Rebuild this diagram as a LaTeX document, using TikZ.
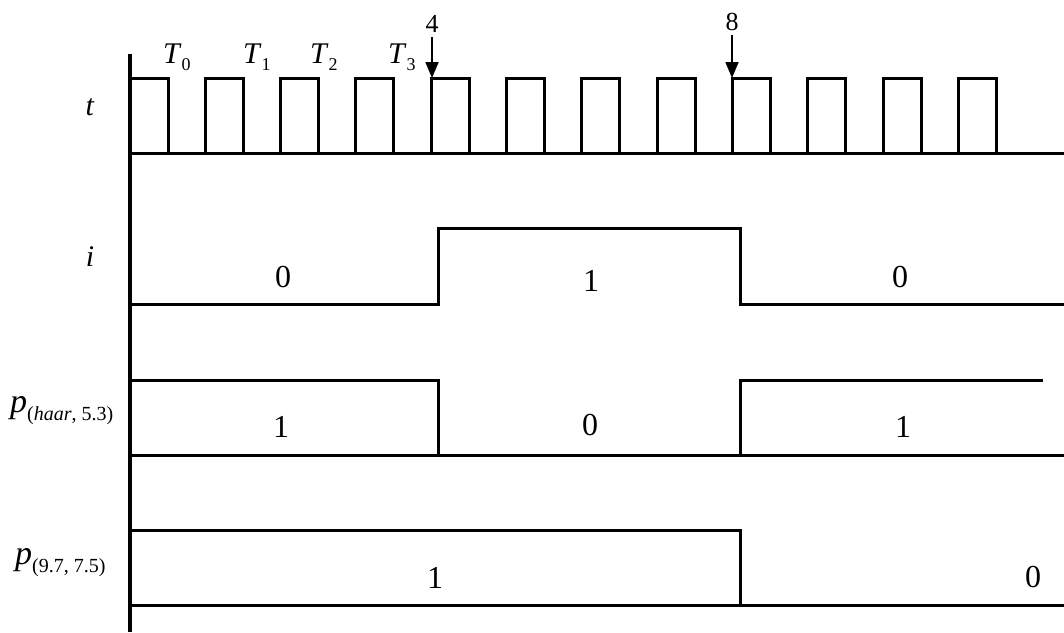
\documentclass[tikz,border=0pt]{standalone}
\usepackage{fontspec}
\setmainfont{Liberation Serif}
\usetikzlibrary{arrows.meta, positioning, calc}

\begin{document}
\begin{tikzpicture}[x=1pt, y=-1pt, every node/.style={font=\fontsize{30}{32}\selectfont, inner sep=0pt}]
  % 定义样式
  \tikzstyle{signal}=[line width=3pt, line join=miter]
  \tikzstyle{axis}=[line width=3.6pt]
  \tikzstyle{value}=[font=\fontsize{32}{33}\selectfont]
  \tikzstyle{rowname}=[anchor=west, font=\fontsize{34}{36}\selectfont]
  \tikzstyle{marker}=[font=\fontsize{26}{27}\selectfont, inner sep=4pt]
  \tikzstyle{arrow}=[line width=1.8pt, -{Triangle[width=13pt,length=16pt]}]
  \newcommand{\sub}[1]{\raisebox{-7pt}{\fontsize{18}{18}\selectfont #1}}

  \useasboundingbox (0,0) rectangle (1064,632);

  % 坐标轴
  \draw[axis] (130,54) -- (130,632);

  % 时钟信号
  \draw[signal] (130,153) -- (1064,153);
  \foreach \k in {0,...,11}
    \draw[signal] ({130+75.3*\k},153) -- ({130+75.3*\k},78) -- ({168+75.3*\k},78) -- ({168+75.3*\k},153);

  % i
  \draw[signal] (130,304) -- (438,304) -- (438,228) -- (740,228) -- (740,304) -- (1064,304);
  % p (haar)
  \draw[signal] (130,380) -- (438,380) -- (438,455);
  \draw[signal] (130,455) -- (1064,455);
  \draw[signal] (740,455) -- (740,380) -- (1043,380);
  % p (9.7, 7.5)
  \draw[signal] (130,530) -- (740,530) -- (740,605);
  \draw[signal] (130,605) -- (1064,605);

  % 节点
  \node (t) at (90,107) {\textit{t}};
  \node (i) at (90,257) {\textit{i}};
  \node (phaar) [rowname] at (10,411) {\textit{p}\raisebox{-8pt}{\fontsize{20}{20}\selectfont(\textit{haar}, 5.3)}};
  \node (pcdf) [rowname] at (15,563) {\textit{p}\raisebox{-8pt}{\fontsize{20}{20}\selectfont(9.7, 7.5)}};

  \node (T0) [anchor=base west] at (163,63) {\textit{T}\sub{0}};
  \node (T1) [anchor=base west] at (243,63) {\textit{T}\sub{1}};
  \node (T2) [anchor=base west] at (310,63) {\textit{T}\sub{2}};
  \node (T3) [anchor=base west] at (388,63) {\textit{T}\sub{3}};

  \node (n4) [marker] at (432,24) {4};
  \node (n8) [marker] at (732,22) {8};
  \coordinate (c4) at (432,78);
  \coordinate (c8) at (732,78);

  \node (i0a) [value] at (283,277) {0};
  \node (i1) [value] at (591,281) {1};
  \node (i0b) [value] at (900,277) {0};
  \node (h1a) [value] at (281,427) {1};
  \node (h0) [value] at (590,425) {0};
  \node (h1b) [value] at (903,427) {1};
  \node (q1) [value] at (435,578) {1};
  \node (q0) [value] at (1033,577) {0};

  % 箭头
  \draw[arrow] (n4) -- (c4);
  \draw[arrow] (n8) -- (c8);
\end{tikzpicture}
\end{document}
